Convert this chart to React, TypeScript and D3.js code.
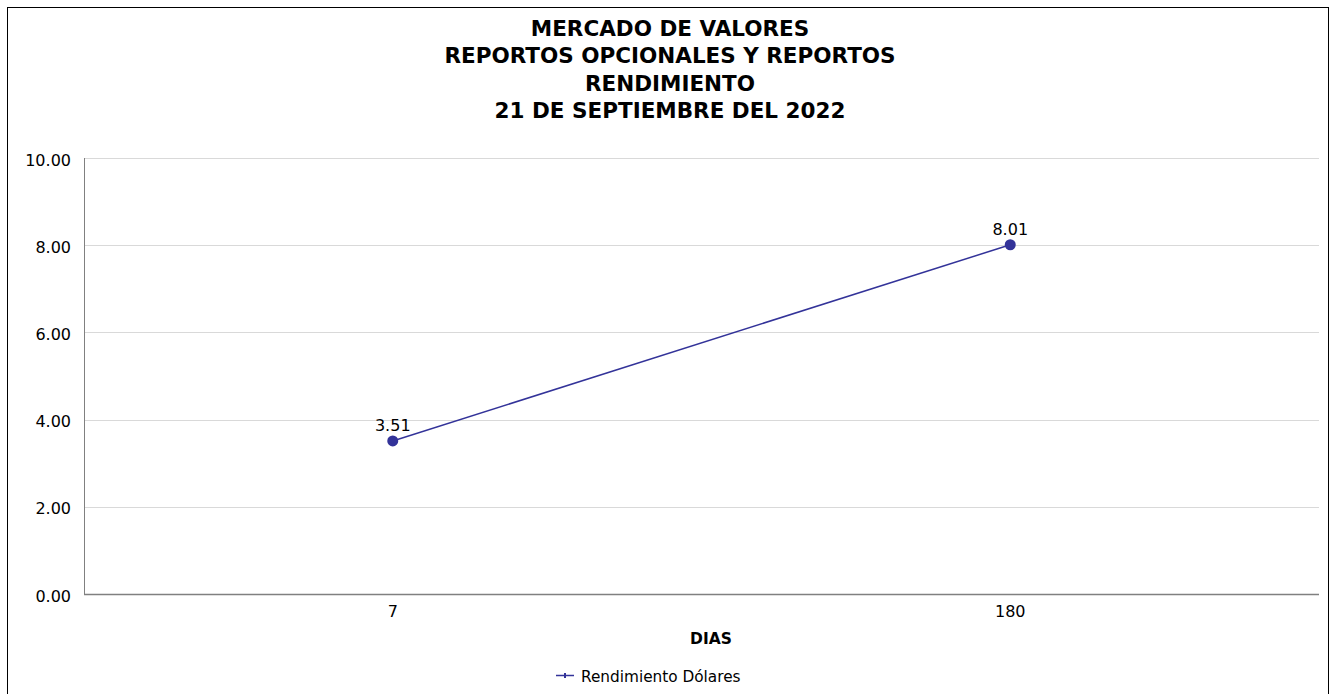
import React from "react";
import * as d3 from "d3";

// chart values
const categories = ["7", "180"];
const rendimientoDolares = [3.51, 8.01];
const yTicks = [0, 2, 4, 6, 8, 10];
const titleLines = [
  "MERCADO DE VALORES",
  "REPORTOS OPCIONALES Y REPORTOS",
  "RENDIMIENTO",
  "21 DE SEPTIEMBRE DEL 2022",
];
const seriesName = "Rendimiento Dólares";
const xTitle = "DIAS";

const W = 1330;
const H = 694;
const margin = { top: 158, right: 11, bottom: 100, left: 84 };
const font = "Tahoma, 'DejaVu Sans', Verdana, sans-serif";
const lineColor = "#333399";

export default function App() {
  const x = d3
    .scaleBand<string>()
    .domain(categories)
    .range([margin.left, W - margin.right]);
  const y = d3
    .scaleLinear()
    .domain([0, 10])
    .range([H - margin.bottom, margin.top]);

  const pts = categories.map((c, i) => ({
    x: (x(c) ?? 0) + x.bandwidth() / 2,
    y: y(rendimientoDolares[i]),
    v: rendimientoDolares[i],
  }));
  const line = d3
    .line<{ x: number; y: number }>()
    .x((d) => d.x)
    .y((d) => d.y);

  return (
    <svg
      width={W}
      height={H}
      style={{ position: "absolute", left: 0, top: 0, background: "#fff" }}
      fontFamily={font}
    >
      <rect x={7.5} y={7.5} width={W - 9} height={H} fill="#fff" stroke="#000" strokeWidth={1} />

      {titleLines.map((t, i) => (
        <text
          key={t}
          x={670}
          y={36 + i * 27.3}
          textAnchor="middle"
          fontSize={21.5}
          fontWeight="bold"
          fill="#000"
        >
          {t}
        </text>
      ))}

      {/* gridlines */}
      {yTicks.slice(1).map((t) => (
        <line
          key={t}
          x1={margin.left}
          x2={W - margin.right}
          y1={Math.round(y(t)) + 0.5}
          y2={Math.round(y(t)) + 0.5}
          stroke="#d9d9d9"
        />
      ))}
      {yTicks.map((t) => (
        <text
          key={"l" + t}
          x={71}
          y={y(t) + 7.5}
          textAnchor="end"
          fontSize={16}
          fill="#000"
        >
          {t.toFixed(2)}
        </text>
      ))}

      {/* axes */}
      <line
        x1={margin.left + 0.5}
        x2={margin.left + 0.5}
        y1={margin.top}
        y2={H - margin.bottom}
        stroke="#808080"
      />
      <line
        x1={margin.left}
        x2={W - margin.right}
        y1={H - margin.bottom + 0.5}
        y2={H - margin.bottom + 0.5}
        stroke="#808080"
        strokeWidth={1.5}
      />
      {categories.map((c) => (
        <text
          key={c}
          x={(x(c) ?? 0) + x.bandwidth() / 2}
          y={H - margin.bottom + 23}
          textAnchor="middle"
          fontSize={16}
          fill="#000"
        >
          {c}
        </text>
      ))}
      <text x={711} y={644} textAnchor="middle" fontSize={15.5} fontWeight="bold" fill="#000">
        {xTitle}
      </text>

      {/* series */}
      <path d={line(pts) ?? ""} fill="none" stroke={lineColor} strokeWidth={1.5} />
      {pts.map((p, i) => (
        <g key={i}>
          <circle cx={p.x} cy={p.y} r={5.5} fill={lineColor} />
          <text x={p.x} y={p.y - 10} textAnchor="middle" fontSize={16} fill="#000">
            {p.v.toFixed(2)}
          </text>
        </g>
      ))}

      {/* legend */}
      <line x1={556} x2={574} y1={675.5} y2={675.5} stroke={lineColor} strokeWidth={1.5} />
      <line x1={565} x2={565} y1={673} y2={678} stroke={lineColor} strokeWidth={2} />
      <text x={581} y={682} fontSize={15.3} fill="#000">
        {seriesName}
      </text>
    </svg>
  );
}
